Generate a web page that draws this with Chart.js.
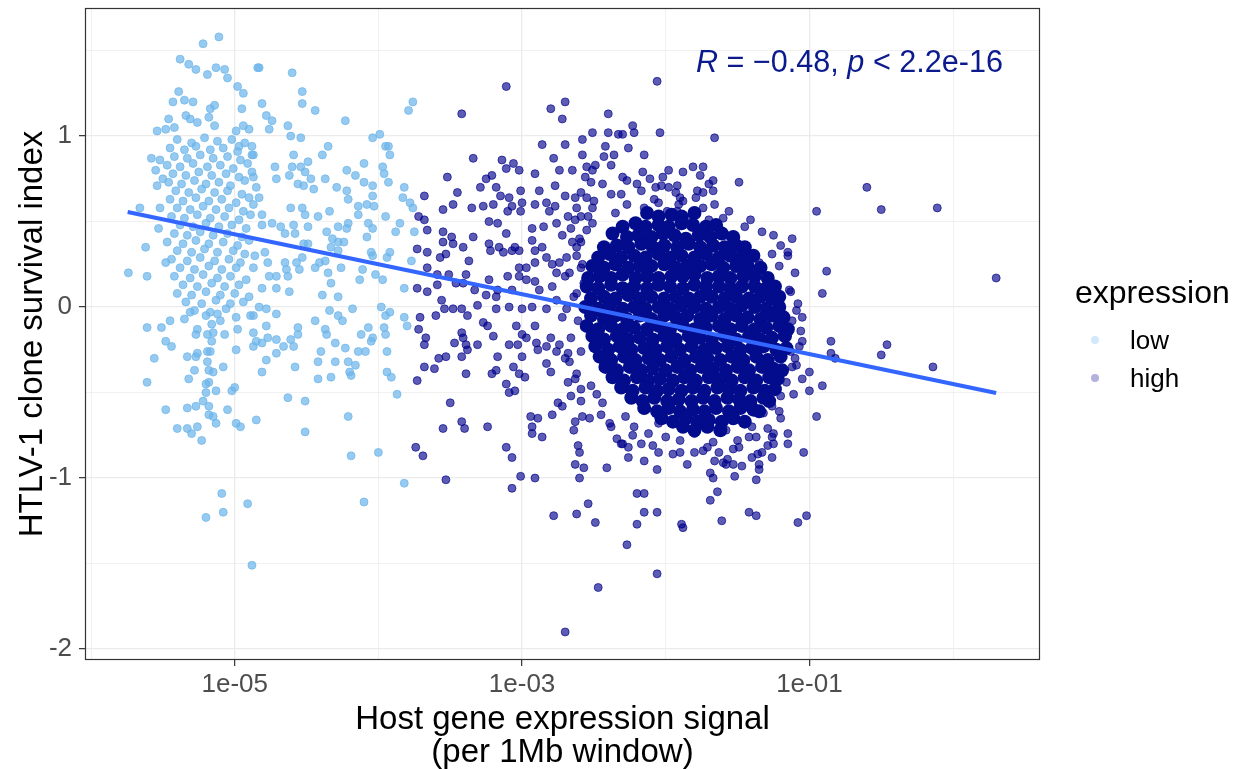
<!DOCTYPE html>
<html>
<head>
<meta charset="utf-8">
<script src="https://cdn.jsdelivr.net/npm/chart.js@4/dist/chart.umd.min.js"></script>
<style>
  html, body { margin: 0; padding: 0; background: #fff; }
  #wrap { width: 1240px; height: 769px; }
</style>
</head>
<body>
<div id="wrap"><canvas id="chart" width="1240" height="769"></canvas></div>
<script>
// each point: [log10(host gene expression signal), clone survival index]
const lowPoints = [
  [-5.11,1.58],[-5.22,1.54],[-5.38,1.45],[-5.32,1.42],[-5.27,1.39],[-5.19,1.36],[-5.13,1.40],[-5.07,1.39],[-5.05,1.34],[-4.98,1.29],
  [-4.94,1.25],[-4.95,1.16],[-5.39,1.26],[-5.43,1.20],[-5.35,1.21],[-5.29,1.20],[-5.17,1.16],[-5.14,1.18],[-5.18,1.11],[-5.34,1.12],
  [-5.31,1.10],[-5.46,1.10],[-5.26,1.08],[-5.14,1.06],[-5.54,1.03],[-5.48,1.04],[-5.42,1.05],[-4.99,1.03],[-4.90,1.04],[-4.94,1.06],
  [-4.84,1.40],[-5.58,0.87],[-5.55,0.80],[-5.52,0.86],[-5.50,0.75],[-5.54,0.71],[-5.52,0.58],[-5.66,0.58],[-5.62,0.35],[-5.74,0.20],
  [-5.61,0.18],[-5.48,0.26],[-5.53,0.46],[-4.97,0.94],[-4.88,0.89],
  [-5.61,-0.12],[-5.51,-0.12],[-5.45,-0.08],[-5.48,-0.20],[-5.44,-0.23],[-5.56,-0.30],[-5.61,-0.44],[-5.48,-0.60],[-5.40,-0.71],[-5.33,-0.71],
  [-5.30,-0.74],[-5.26,-0.70],[-5.23,-0.78],[-5.33,-0.59],[-5.27,-0.58],[-5.18,-0.58],[-5.18,-0.63],[-5.15,-0.64],[-5.13,-0.68],[-5.05,-0.60],
  [-4.99,-0.68],[-4.96,-0.70],[-4.85,-0.66],[-5.22,-0.55],[-5.20,-0.50],[-5.13,-0.49],[-5.20,-0.45],[-5.18,-0.44],[-5.02,-0.49],[-5.00,-0.47],
  [-5.32,-0.42],[-5.28,-0.37],[-5.18,-0.37],[-5.15,-0.38],[-5.08,-0.35],[-5.19,-0.32],[-5.33,-0.29],[-5.27,-0.29],[-5.26,-0.27],[-5.19,-0.26],
  [-5.17,-0.26],[-4.99,-0.25],[-5.16,-0.20],[-5.19,-0.16],[-5.15,-0.15],[-5.27,-0.16],[-5.26,-0.13],[-5.07,-0.16],[-4.98,-0.13],[-4.87,-0.15],
  [-4.87,-0.23],[-4.85,-0.20],[-5.16,-0.10],[-5.10,-0.08],[-5.12,-0.04],[-5.20,-0.05],[-5.35,-0.07],[-5.31,-0.03],[-4.99,-0.06],[-4.89,-0.05],
  [-5.09,-1.09],[-4.91,-1.15],[-5.08,-1.20],[-5.20,-1.23],[-4.88,-1.51],
  [-4.83,1.40],[-4.60,1.37],[-4.53,1.26],[-4.53,1.19],[-4.44,1.15],[-4.81,1.19],[-4.78,1.12],[-4.74,1.09],[-4.76,1.04],[-4.63,1.06],
  [-4.61,1.00],[-4.54,0.99],[-4.23,1.09],[-4.04,0.99],[-3.99,1.01],[-3.95,0.94],[-3.93,0.94],[-3.92,0.89],[-3.76,1.20],[-3.79,1.15],
  [-4.35,0.94],[-4.39,0.89],[-4.59,0.89],[-4.49,0.85],[-4.60,0.82],[-4.54,0.82],[-4.51,0.79],[-4.47,0.75],[-4.72,0.82],[-4.71,0.75],
  [-4.62,0.77],[-4.56,0.72],[-4.52,0.71],[-4.45,0.69],[-4.37,0.75],[-4.22,0.80],[-4.16,0.77],[-4.10,0.84],[-3.97,0.82],[-3.96,0.78],
  [-3.93,0.73],[-4.10,0.73],[-4.04,0.71],[-4.04,0.65],[-4.03,0.59],[-4.08,0.60],[-4.14,0.59],[-4.14,0.54],[-4.22,0.68],[-4.21,0.63],
  [-4.29,0.70],[-3.82,0.70],[-3.83,0.64],[-3.78,0.61],[-3.76,0.58],[-3.85,0.49],[-3.88,0.44],[-3.75,0.44],[-3.77,0.27],[-3.94,0.29],
  [-3.92,0.32],[-4.05,0.32],[-4.04,0.30],[-4.07,0.49],[-4.04,0.46],[-4.08,0.41],[-4.21,0.49],[-4.22,0.46],[-4.28,0.47],[-4.34,0.56],
  [-4.42,0.53],[-4.49,0.47],[-4.53,0.58],[-4.51,0.54],[-4.61,0.58],[-4.59,0.48],[-4.58,0.43],[-4.65,0.43],[-4.68,0.47],[-4.74,0.49],
  [-4.81,0.48],[-4.36,0.44],[-4.32,0.40],[-4.33,0.35],[-4.28,0.38],[-4.24,0.38],[-4.28,0.33],[-4.37,0.27],[-4.41,0.26],[-4.44,0.23],
  [-4.26,0.23],[-4.11,0.22],[-4.13,0.16],[-4.02,0.19],[-3.97,0.16],[-4.35,0.20],[-4.33,0.14],[-4.52,0.37],[-4.49,0.37],[-4.53,0.29],
  [-4.57,0.26],[-4.65,0.26],[-4.64,0.22],[-4.55,0.22],[-4.63,0.18],[-4.71,0.18],[-4.76,0.18],[-4.79,0.32],[-4.77,0.26],[-4.86,0.30],
  [-4.87,0.23],[-4.81,0.11],[-4.71,0.11],[-4.62,0.09],[-4.39,0.07],[-4.28,0.06],[-3.82,0.11],[-3.95,0.53],[-4.87,0.89],[-4.87,0.76],
  [-4.85,0.70],[-4.83,0.64],[-4.81,0.54],[-4.87,0.60],
  [-4.87,-0.05],[-4.83,0.00],[-4.78,-0.01],[-4.71,-0.04],[-4.78,-0.11],[-4.81,-0.21],[-4.77,-0.18],[-4.71,-0.19],[-4.71,-0.27],[-4.78,-0.31],
  [-4.81,-0.38],[-4.66,-0.23],[-4.61,-0.19],[-4.59,-0.23],[-4.56,-0.16],[-4.56,-0.12],[-4.58,-0.35],[-4.44,-0.08],[-4.37,-0.13],[-4.36,-0.16],
  [-4.40,-0.26],[-4.42,-0.32],[-4.42,-0.42],[-4.33,-0.41],[-4.30,-0.32],[-4.30,-0.21],[-4.23,-0.24],[-4.21,-0.32],[-4.16,-0.34],[-4.20,-0.38],
  [-4.19,-0.40],[-4.34,-0.02],[-4.28,-0.05],[-4.25,-0.08],[-4.18,-0.01],[-4.12,-0.16],[-4.07,-0.12],[-4.04,-0.18],[-4.05,-0.20],[-4.14,-0.26],
  [-4.09,-0.26],[-3.96,-0.12],[-3.95,-0.16],[-3.94,-0.26],[-3.94,-0.38],[-3.91,-0.41],[-3.95,-0.05],[-3.92,-0.03],[-3.98,0.00],[-3.82,-0.06],
  [-3.80,-0.11],[-3.87,-0.51],[-4.63,-0.53],[-4.51,-0.55],[-4.51,-0.73],[-4.21,-0.64],[-4.19,-0.87],[-4.00,-0.85],[-3.82,-1.03],[-4.10,-1.14],
  // dense part of the low cluster
  [-5.40,0.98],[-5.30,0.96],[-5.21,0.99],[-5.12,0.97],[-5.02,0.98],[-4.93,0.96],
  [-5.45,0.93],[-5.35,0.92],[-5.27,0.94],[-5.17,0.92],[-5.08,0.93],[-4.98,0.91],[-4.88,0.94],
  [-5.42,0.88],[-5.33,0.87],[-5.24,0.89],[-5.15,0.87],[-5.05,0.88],[-4.96,0.86],
  [-5.47,0.83],[-5.38,0.82],[-5.29,0.84],[-5.19,0.82],[-5.10,0.83],[-5.01,0.81],[-4.91,0.84],
  [-5.43,0.78],[-5.34,0.77],[-5.25,0.79],[-5.16,0.77],[-5.06,0.78],[-4.97,0.76],[-4.88,0.79],
  [-5.46,0.73],[-5.37,0.72],[-5.28,0.74],[-5.20,0.72],[-5.11,0.73],[-5.03,0.71],[-4.93,0.74],
  [-5.41,0.68],[-5.32,0.67],[-5.23,0.69],[-5.14,0.67],[-5.05,0.68],[-4.95,0.66],
  [-5.45,0.63],[-5.36,0.62],[-5.27,0.64],[-5.18,0.62],[-5.09,0.63],[-4.99,0.61],[-4.90,0.64],
  [-5.40,0.58],[-5.31,0.57],[-5.22,0.59],[-5.13,0.57],[-5.04,0.58],[-4.94,0.56],
  [-5.44,0.53],[-5.35,0.52],[-5.26,0.54],[-5.17,0.52],[-5.07,0.53],[-4.97,0.51],[-4.89,0.54],
  [-5.38,0.48],[-5.29,0.47],[-5.20,0.49],[-5.11,0.47],[-5.02,0.48],[-4.92,0.46],
  [-5.42,0.43],[-5.33,0.42],[-5.24,0.44],[-5.15,0.42],[-5.05,0.43],[-4.95,0.41],
  [-5.47,0.38],[-5.36,0.37],[-5.27,0.39],[-5.18,0.37],[-5.08,0.38],[-4.98,0.36],[-4.90,0.39],
  [-5.40,0.33],[-5.30,0.32],[-5.21,0.34],[-5.12,0.32],[-5.01,0.33],[-4.93,0.31],
  [-5.44,0.28],[-5.33,0.27],[-5.24,0.29],[-5.14,0.27],[-5.04,0.28],[-4.96,0.26],
  [-5.38,0.23],[-5.28,0.22],[-5.18,0.24],[-5.09,0.22],[-4.99,0.23],
  [-5.42,0.18],[-5.31,0.17],[-5.22,0.19],[-5.12,0.17],[-5.03,0.18],[-4.92,0.16],
  [-5.36,0.13],[-5.26,0.12],[-5.16,0.14],[-5.07,0.12],[-4.97,0.13],
  [-5.40,0.08],[-5.30,0.07],[-5.20,0.09],[-5.10,0.07],[-5.00,0.08],[-4.90,0.06],
  [-5.34,0.03],[-5.23,0.02],[-5.13,0.04],[-5.03,0.02],[-4.94,0.03],
  [-5.28,-0.02],[-5.17,-0.03],[-5.06,-0.01]
];

const highPoints = [
  [-3.68,0.65],[-3.72,0.53],[-3.68,0.51],[-3.66,0.45],[-3.73,0.34],[-3.66,0.32],[-3.66,0.23],[-3.73,0.11],[-3.66,0.09],[-3.71,-0.06],
  [-3.72,-0.13],[-3.67,-0.18],[-3.68,-0.22],[-3.68,-0.35],[-3.73,-0.43],[-3.74,-0.82],[-3.69,-0.87],
  [-3.11,1.29],[-3.42,1.13],[-2.80,1.16],[-2.70,1.20],[-2.72,1.10],[-2.86,0.95],[-2.70,0.95],[-2.51,1.02],[-2.58,0.98],[-2.58,0.89],
  [-3.34,0.87],[-3.14,0.86],[-3.11,0.81],[-3.06,0.84],[-3.02,0.80],[-2.78,0.87],[-2.74,0.80],[-2.65,0.80],[-2.91,0.78],[-3.52,0.76],
  [-3.25,0.75],[-3.21,0.77],[-3.29,0.70],[-3.18,0.70],[-3.15,0.65],[-3.09,0.64],[-3.01,0.68],[-2.88,0.68],[-2.77,0.71],[-2.70,0.65],
  [-3.45,0.67],[-3.48,0.60],[-3.55,0.57],[-3.35,0.58],[-3.27,0.59],[-3.20,0.60],[-3.10,0.56],[-3.07,0.59],[-3.00,0.61],[-3.01,0.56],
  [-2.91,0.60],[-2.83,0.61],[-2.81,0.56],[-2.77,0.59],[-2.68,0.53],[-3.55,0.44],[-3.49,0.41],[-3.34,0.41],[-3.23,0.50],[-3.17,0.49],
  [-3.11,0.43],[-2.93,0.46],[-2.85,0.47],[-3.55,0.38],[-3.48,0.37],[-3.41,0.35],[-3.57,0.29],[-3.53,0.31],[-3.37,0.27],[-3.23,0.37],
  [-3.22,0.33],[-3.16,0.35],[-3.13,0.32],[-3.07,0.33],[-3.05,0.35],[-3.02,0.33],[-3.59,0.19],[-3.51,0.19],[-3.39,0.19],[-3.41,0.14],
  [-3.33,0.10],[-3.23,0.16],[-3.17,0.10],[-3.10,0.18],[-3.07,0.10],[-3.59,0.13],[-3.56,0.04],[-3.46,0.14],[-3.25,0.07],[-3.18,0.06],
  [-3.31,0.01],[-3.54,-0.01],[-3.48,-0.01],[-3.42,-0.01],[-3.38,-0.05],[-3.60,-0.05],[-2.93,0.39],[-2.91,0.33],[-2.86,0.35],[-2.83,0.29],
  [-2.91,0.26],[-2.97,0.23],[-3.02,0.23],[-3.02,0.18],[-2.97,0.16],[-2.91,0.15],[-2.88,0.10],[-2.79,0.12],[-2.76,0.20],[-2.74,0.26],
  [-2.79,0.25],[-2.69,0.29],[-2.67,0.20],[-2.62,0.35],[-2.59,0.38],[-2.65,0.38],[-2.55,0.45],[-2.51,0.49],[-2.54,0.53],[-2.59,0.53],
  [-2.63,0.51],[-2.51,0.58],[-2.55,0.64],[-2.59,0.67],[-2.52,0.73],[-2.56,0.76],[-2.51,0.80],[-2.55,0.82],[-2.63,0.64],[-2.76,0.49],
  [-2.72,0.42],[-2.59,0.23],[-2.62,0.08],[-2.55,0.12],[-2.51,0.04],[-2.76,0.04],[-2.69,-0.01],[-2.83,-0.01],[-2.93,0.00],[-3.00,-0.01],
  [-3.09,0.00],[-3.18,-0.01],
  [-3.47,-0.21],[-3.42,-0.15],[-3.41,-0.18],[-3.39,-0.22],[-3.38,-0.25],[-3.31,-0.22],[-3.27,-0.09],[-3.24,-0.11],[-3.20,-0.17],[-3.53,-0.29],
  [-3.58,-0.30],[-3.42,-0.29],[-3.61,-0.36],[-3.39,-0.39],[-3.21,-0.39],[-3.18,-0.37],[-3.17,-0.29],[-3.11,-0.45],[-3.09,-0.50],[-3.05,-0.49],
  [-3.06,-0.35],[-3.02,-0.39],[-2.98,-0.41],[-3.00,-0.29],[-3.09,-0.22],[-3.03,-0.22],[-3.00,-0.16],[-3.04,-0.11],[-2.97,-0.18],[-2.91,-0.11],
  [-2.90,-0.21],[-2.89,-0.25],[-2.83,-0.23],[-2.83,-0.33],[-2.80,-0.38],[-2.80,-0.18],[-2.76,-0.26],[-2.74,-0.22],[-2.68,-0.27],[-2.68,-0.44],
  [-2.67,-0.32],[-2.62,-0.39],[-2.59,-0.48],[-2.59,-0.55],[-2.75,-0.56],[-2.72,-0.58],[-2.79,-0.63],[-2.58,-0.64],[-2.53,-0.65],[-2.63,-0.67],
  [-2.64,-0.72],[-2.94,-0.64],[-2.89,-0.65],[-2.93,-0.70],[-2.93,-0.74],[-2.86,-0.76],[-3.50,-0.56],[-3.42,-0.67],[-3.40,-0.71],[-3.55,-0.71],
  [-3.24,-0.70],[-3.11,-0.82],[-3.07,-0.88],[-3.53,-1.01],[-3.07,-1.06],[-3.01,-0.99],[-2.91,-1.00],[-2.61,-0.81],[-2.60,-0.85],[-2.63,-0.92],
  [-2.57,-0.94],[-2.60,-1.00],[-2.54,-1.15],[-2.62,-1.21],[-2.78,-1.22],[-2.49,-1.26],[-2.47,-1.64],[-2.70,-1.90],[-2.48,-0.51],
  [-2.06,1.32],[-2.40,1.13],[-2.04,1.02],[-1.66,0.99],[-2.23,1.06],[-2.22,1.02],[-2.33,1.01],[-2.30,1.01],[-2.40,1.02],[-2.42,0.94],
  [-2.26,0.93],[-2.43,0.88],[-2.36,0.89],[-2.38,0.83],[-2.15,0.89],[-2.49,0.83],[-1.98,0.80],[-1.88,0.79],[-1.81,0.82],[-1.74,0.82],
  [-1.76,0.77],[-1.67,0.74],[-1.49,0.73],[-1.67,0.68],[-1.74,0.67],[-2.16,0.79],[-2.11,0.75],[-2.27,0.74],[-2.03,0.71],[-1.92,0.71],
  [-2.07,0.70],[-1.90,0.64],[-1.79,0.64],[-1.91,0.60],[-1.74,0.58],[-2.31,0.66],[-2.15,0.58],[-2.05,0.61],[-1.99,0.56],[-1.92,0.56],
  [-1.70,0.51],[-1.63,0.47],[-1.45,0.47],[-1.41,0.51],[-1.33,0.44],[-1.58,0.42],[-1.60,0.32],[-1.51,0.32],[-1.46,0.31],[-1.26,0.31],
  [-1.15,0.32],[-1.35,0.26],[-1.21,0.24],[-1.37,0.20],[-1.13,0.09],[-1.26,0.06],[-0.95,0.56],[-1.42,0.13],[-1.85,0.51],[-1.79,0.47],
  [-1.09,-0.02],[-1.05,-0.06],[-1.17,-0.12],[-1.19,-0.15],[-1.05,-0.20],[-1.07,-0.23],[-1.10,-0.30],[-1.12,-0.35],[-1.00,-0.38],[-1.05,-0.42],
  [-1.00,-0.49],[-1.11,-0.51],[-0.95,-0.64],[-1.04,-0.85],[-1.15,-0.74],[-1.15,-0.80],[-1.21,-0.61],[-1.20,-0.65],[-1.25,-0.74],[-1.25,-0.80],
  [-1.29,-0.71],[-1.26,-0.88],[-1.33,-0.85],[-1.36,-0.86],[-1.35,-0.92],[-1.35,-0.95],[-1.40,-0.88],[-1.37,-1.01],[-1.47,-0.93],[-1.53,-0.92],
  [-1.52,-0.99],[-1.58,-0.92],[-1.60,-0.91],[-1.66,-0.90],[-1.69,-0.97],[-1.67,-1.00],[-1.64,-1.08],[-1.69,-1.13],[-1.61,-1.25],[-1.42,-1.20],
  [-1.37,-1.22],[-1.08,-1.26],[-1.02,-1.22],[-1.90,-0.85],[-1.80,-0.85],[-2.06,-0.95],[-2.06,-1.20],[-2.15,-1.20],[-2.20,-1.09],[-2.15,-1.09],
  [-2.20,-1.27],[-1.88,-1.29],[-1.89,-1.27],[-2.27,-1.39],[-2.06,-1.56],[-2.41,-0.94],[-2.26,-0.88],[-2.26,-0.82],[-2.34,-0.77],[-2.31,-0.80],
  [-2.23,-0.75],[-2.17,-0.80],[-2.09,-0.81],[-2.05,-0.85],[-2.39,-0.68],[-2.45,-0.63],[-1.71,-0.82],[-1.67,-0.79],[-1.63,-0.85],[-1.57,-0.89],
  [-1.53,-0.83],[-1.49,-0.82],[-1.29,-0.81],[-1.26,-0.76],[-1.37,-0.76],[-1.42,-0.76],
  [-0.60,0.70],[-0.50,0.57],[-0.11,0.58],[-0.88,0.21],[-0.91,0.08],[0.30,0.17],[-0.85,-0.20],[-0.85,-0.27],[-0.82,-0.30],[-0.46,-0.22],
  [-0.50,-0.28],[-0.14,-0.35],[-0.91,-0.46],
  // edge of the dense cloud
  [-2.50,0.62],[-2.38,0.66],[-2.27,0.60],[-2.17,0.68],[-2.08,0.63],[-1.98,0.70],[-1.88,0.62],[-1.78,0.68],[-1.66,0.60],[-1.56,0.56],
  [-2.44,0.72],[-2.30,0.76],[-2.20,0.72],[-2.02,0.76],[-1.93,0.67],[-1.70,0.72],[-2.62,0.58],[-2.12,0.54],[-1.60,0.52],[-2.35,0.55],
  [-2.66,0.46],[-2.62,0.30],[-2.70,0.18],[-2.64,0.06],[-2.72,-0.06],[-2.66,-0.18],[-2.70,-0.30],[-2.63,-0.42],[-2.60,0.40],[-2.58,0.25],
  [-2.61,-0.08],[-2.59,-0.26],[-2.57,0.14],[-2.66,-0.52],
  [-1.15,0.30],[-1.10,0.20],[-1.14,0.10],[-1.08,0.02],[-1.12,-0.08],[-1.06,-0.14],[-1.13,-0.26],[-1.09,-0.34],[-1.16,-0.44],[-1.20,-0.52],
  [-1.26,-0.58],[-1.32,-0.62],[-1.12,0.40],[-1.20,0.36],[-1.25,0.42],
  [-2.38,-0.70],[-2.22,-0.70],[-2.12,-0.74],[-2.00,-0.76],[-1.90,-0.78],[-1.80,-0.74],[-1.70,-0.70],[-1.58,-0.72],[-1.45,-0.66],[-1.50,-0.78],
  [-2.05,-0.68],[-1.95,-0.86],[-1.74,-0.84],[-2.30,-0.80],[-1.40,-0.70],[-2.28,-0.64],[-2.44,-0.56],[-2.52,-0.46],[-1.85,-0.92],[-2.15,-0.90]
];

// solid centre of the high-expression cloud, where points overlap heavily
const highCorePoints = [
  [-2.13,0.55],[-2.05,0.53],[-1.96,0.54],[-1.89,0.53],[-1.80,0.55],
  [-2.30,0.47],[-2.21,0.49],[-2.14,0.47],[-2.05,0.48],[-1.98,0.47],[-1.89,0.49],[-1.81,0.48],[-1.72,0.47],[-1.65,0.48],
  [-2.37,0.43],[-2.27,0.41],[-2.19,0.42],[-2.10,0.41],[-2.02,0.43],[-1.94,0.42],[-1.86,0.40],[-1.77,0.42],[-1.69,0.41],[-1.61,0.43],[-1.53,0.41],
  [-2.43,0.35],[-2.34,0.36],[-2.26,0.35],[-2.17,0.37],[-2.09,0.35],[-2.01,0.36],[-1.92,0.35],[-1.84,0.37],[-1.76,0.35],[-1.67,0.36],[-1.59,0.35],[-1.51,0.36],[-1.45,0.35],
  [-2.47,0.29],[-2.39,0.31],[-2.31,0.29],[-2.22,0.30],[-2.14,0.29],[-2.05,0.31],[-1.97,0.29],[-1.89,0.30],[-1.80,0.29],[-1.72,0.31],[-1.63,0.29],[-1.55,0.30],[-1.47,0.29],[-1.39,0.30],
  [-2.51,0.24],[-2.43,0.23],[-2.35,0.25],[-2.26,0.23],[-2.18,0.24],[-2.10,0.24],[-2.01,0.25],[-1.93,0.23],[-1.85,0.24],[-1.76,0.24],[-1.68,0.25],[-1.60,0.23],[-1.51,0.24],[-1.43,0.24],[-1.34,0.23],
  [-2.54,0.17],[-2.46,0.18],[-2.38,0.17],[-2.30,0.19],[-2.21,0.17],[-2.13,0.18],[-2.05,0.17],[-1.96,0.18],[-1.88,0.18],[-1.80,0.19],[-1.71,0.17],[-1.63,0.18],[-1.55,0.17],[-1.46,0.18],[-1.38,0.18],[-1.29,0.17],
  [-2.55,0.12],[-2.47,0.11],[-2.38,0.13],[-2.30,0.11],[-2.22,0.12],[-2.13,0.11],[-2.05,0.13],[-1.97,0.12],[-1.88,0.11],[-1.80,0.13],[-1.72,0.12],[-1.63,0.12],[-1.55,0.11],[-1.47,0.12],[-1.38,0.12],[-1.30,0.11],[-1.24,0.12],
  [-2.52,0.05],[-2.43,0.06],[-2.35,0.05],[-2.26,0.07],[-2.18,0.05],[-2.10,0.06],[-2.01,0.05],[-1.93,0.06],[-1.84,0.05],[-1.76,0.06],[-1.68,0.06],[-1.59,0.05],[-1.51,0.06],[-1.42,0.05],[-1.34,0.06],[-1.26,0.05],[-1.21,0.06],
  [-2.56,0.00],[-2.47,-0.01],[-2.39,0.01],[-2.30,-0.01],[-2.22,0.00],[-2.14,-0.01],[-2.05,0.00],[-1.97,-0.01],[-1.89,0.01],[-1.80,0.00],[-1.72,-0.01],[-1.63,0.00],[-1.55,-0.01],[-1.47,0.01],[-1.38,0.00],[-1.30,-0.01],[-1.21,0.00],
  [-2.52,-0.05],[-2.43,-0.07],[-2.35,-0.05],[-2.27,-0.07],[-2.18,-0.05],[-2.10,-0.07],[-2.01,-0.05],[-1.93,-0.06],[-1.85,-0.05],[-1.76,-0.07],[-1.68,-0.05],[-1.59,-0.07],[-1.51,-0.05],[-1.43,-0.06],[-1.34,-0.07],[-1.26,-0.05],[-1.18,-0.06],
  [-2.55,-0.11],[-2.47,-0.13],[-2.38,-0.11],[-2.30,-0.13],[-2.22,-0.12],[-2.13,-0.13],[-2.05,-0.11],[-1.97,-0.13],[-1.88,-0.11],[-1.80,-0.13],[-1.72,-0.12],[-1.63,-0.11],[-1.55,-0.13],[-1.47,-0.11],[-1.38,-0.13],[-1.30,-0.12],[-1.21,-0.11],[-1.15,-0.13],
  [-2.51,-0.17],[-2.43,-0.19],[-2.34,-0.17],[-2.26,-0.19],[-2.18,-0.18],[-2.09,-0.19],[-2.01,-0.17],[-1.93,-0.19],[-1.84,-0.17],[-1.76,-0.18],[-1.68,-0.19],[-1.59,-0.17],[-1.51,-0.19],[-1.42,-0.17],[-1.34,-0.19],[-1.26,-0.18],[-1.17,-0.17],
  [-2.49,-0.23],[-2.40,-0.25],[-2.32,-0.23],[-2.24,-0.25],[-2.15,-0.24],[-2.07,-0.25],[-1.99,-0.23],[-1.90,-0.25],[-1.82,-0.23],[-1.73,-0.25],[-1.65,-0.24],[-1.57,-0.23],[-1.48,-0.25],[-1.40,-0.24],[-1.32,-0.23],[-1.23,-0.25],[-1.16,-0.24],
  [-2.46,-0.29],[-2.38,-0.31],[-2.29,-0.29],[-2.21,-0.31],[-2.12,-0.30],[-2.04,-0.31],[-1.96,-0.29],[-1.87,-0.31],[-1.79,-0.29],[-1.71,-0.30],[-1.62,-0.31],[-1.54,-0.29],[-1.46,-0.31],[-1.37,-0.29],[-1.29,-0.31],[-1.20,-0.29],
  [-2.42,-0.35],[-2.34,-0.37],[-2.25,-0.35],[-2.17,-0.37],[-2.09,-0.36],[-2.00,-0.37],[-1.92,-0.35],[-1.83,-0.37],[-1.75,-0.35],[-1.67,-0.36],[-1.58,-0.37],[-1.50,-0.35],[-1.42,-0.37],[-1.33,-0.35],[-1.25,-0.36],[-1.19,-0.37],
  [-2.37,-0.41],[-2.29,-0.43],[-2.20,-0.41],[-2.12,-0.43],[-2.04,-0.42],[-1.95,-0.43],[-1.87,-0.41],[-1.79,-0.43],[-1.70,-0.41],[-1.62,-0.42],[-1.54,-0.43],[-1.45,-0.41],[-1.37,-0.43],[-1.28,-0.41],[-1.22,-0.42],
  [-2.31,-0.47],[-2.23,-0.49],[-2.14,-0.47],[-2.06,-0.49],[-1.98,-0.48],[-1.89,-0.49],[-1.81,-0.47],[-1.73,-0.49],[-1.64,-0.47],[-1.56,-0.48],[-1.48,-0.49],[-1.39,-0.47],[-1.31,-0.49],[-1.24,-0.48],
  [-2.24,-0.53],[-2.16,-0.55],[-2.08,-0.53],[-1.99,-0.55],[-1.91,-0.54],[-1.82,-0.55],[-1.74,-0.53],[-1.66,-0.55],[-1.57,-0.53],[-1.49,-0.54],[-1.41,-0.55],[-1.32,-0.53],[-1.28,-0.55],
  [-2.15,-0.59],[-2.06,-0.61],[-1.98,-0.59],[-1.90,-0.61],[-1.81,-0.60],[-1.73,-0.61],[-1.65,-0.59],[-1.56,-0.61],[-1.48,-0.59],[-1.39,-0.60],[-1.35,-0.61],
  [-2.03,-0.65],[-1.95,-0.67],[-1.86,-0.65],[-1.78,-0.67],[-1.70,-0.66],[-1.61,-0.67],[-1.53,-0.65],[-1.45,-0.67],
  [-1.88,-0.70],[-1.80,-0.72],[-1.71,-0.70],[-1.62,-0.72]
];

// linear fit: [log10(signal), survival index] at both ends
const fitLine = [[-5.745, 0.556], [0.30, -0.503]];

const xMajorTicks = [1e-5, 1e-3, 1e-1];
const xTickLabels = ['1e-05', '1e-03', '1e-01'];
const xMinorTicks = [1e-6, 1e-4, 1e-2, 1];
const yMajorTicks = [-2, -1, 0, 1];
const yTickLabels = ['-2', '-1', '0', '1'];
const yMinorTicks = [-1.5, -0.5, 0.5, 1.5];

const corText = [['R', true], [' = \u22120.48, ', false], ['p', true], [' < 2.2e-16', false]];
const legendTitle = 'expression';
const legendLabels = ['low', 'high'];

const FONT = '"Liberation Sans", Arial, Helvetica, sans-serif';
const LOW_COLOR = 'rgba(110, 182, 234, 0.72)';
const HIGH_COLOR = 'rgba(0, 0, 139, 0.64)';
const CORE_COLOR = 'rgb(2, 12, 140)';

const toXY = p => ({ x: Math.pow(10, p[0]), y: p[1] });
const sameLog = (a, b) => Math.abs(Math.log10(a) - Math.log10(b)) < 1e-6;
const isXMajor = v => xMajorTicks.some(m => sameLog(m, v));

Chart.defaults.font.family = FONT;

// frame, correlation label and legend drawn on the canvas
const extrasPlugin = {
  id: 'extras',
  afterDraw(chart) {
    const { ctx, chartArea: a } = chart;
    ctx.save();
    ctx.strokeStyle = '#333333';
    ctx.lineWidth = 1.2;
    ctx.strokeRect(a.left + 0.5, a.top + 0.5, a.right - a.left - 1, a.bottom - a.top - 1);

    // correlation text
    let x = 696;
    ctx.fillStyle = '#0b1a8c';
    ctx.textBaseline = 'alphabetic';
    corText.forEach(([t, italic]) => {
      ctx.font = (italic ? 'italic ' : '') + '30.6px ' + FONT;
      ctx.fillText(t, x, 72);
      x += ctx.measureText(t).width;
    });

    // legend
    ctx.fillStyle = '#000000';
    ctx.font = '32px ' + FONT;
    ctx.fillText(legendTitle, 1075, 303);
    const keyColors = ['rgba(110, 182, 234, 0.3)', 'rgba(0, 0, 139, 0.3)'];
    const keyY = [340, 378];
    legendLabels.forEach((lab, i) => {
      ctx.beginPath();
      ctx.arc(1095, keyY[i], 4, 0, Math.PI * 2);
      ctx.fillStyle = keyColors[i];
      ctx.fill();
      ctx.fillStyle = '#000000';
      ctx.font = '26px ' + FONT;
      ctx.fillText(lab, 1130, keyY[i] + 9);
    });
    ctx.restore();
  }
};

new Chart(document.getElementById('chart'), {
  type: 'scatter',
  data: {
    datasets: [
      {
        label: 'fit',
        data: fitLine.map(toXY),
        showLine: true,
        borderColor: '#3366FF',
        borderWidth: 4,
        pointRadius: 0
      },
      {
        label: 'high',
        data: highCorePoints.map(toXY),
        backgroundColor: CORE_COLOR,
        borderWidth: 0,
        pointRadius: 7
      },
      {
        label: 'high',
        data: highPoints.map(toXY),
        backgroundColor: HIGH_COLOR,
        borderColor: HIGH_COLOR,
        borderWidth: 1,
        pointRadius: 4
      },
      {
        label: 'low',
        data: lowPoints.map(toXY),
        backgroundColor: LOW_COLOR,
        borderColor: LOW_COLOR,
        borderWidth: 1,
        pointRadius: 4
      }
    ]
  },
  options: {
    responsive: false,
    animation: false,
    devicePixelRatio: 1,
    layout: { padding: { left: 0, right: 200, top: 8, bottom: 0 } },
    plugins: { legend: { display: false }, tooltip: { enabled: false } },
    scales: {
      x: {
        type: 'logarithmic',
        min: Math.pow(10, -6.042),
        max: Math.pow(10, 0.605),
        afterBuildTicks: s => { s.ticks = xMinorTicks.concat(xMajorTicks).sort((a, b) => a - b).map(v => ({ value: v })); },
        afterFit: s => { s.height = 109; s.paddingLeft = 0; s.paddingRight = 0; },
        ticks: {
          autoSkip: false,
          maxRotation: 0,
          padding: 3,
          color: '#4d4d4d',
          font: { size: 26 },
          callback: v => {
            const i = xMajorTicks.findIndex(m => sameLog(m, v));
            return i >= 0 ? xTickLabels[i] : '';
          }
        },
        grid: {
          color: '#ebebeb',
          lineWidth: c => (c.tick && isXMajor(c.tick.value)) ? 1.3 : 0.7,
          tickColor: c => (c.tick && isXMajor(c.tick.value)) ? '#333333' : 'rgba(0,0,0,0)',
          tickLength: 6,
          tickWidth: 1.2
        },
        border: { display: false },
        title: {
          display: true,
          text: ['Host gene expression signal', '(per 1Mb window)'],
          color: '#000000',
          font: { size: 33, lineHeight: 1.0 },
          padding: { top: 0, bottom: 0 }
        }
      },
      y: {
        type: 'linear',
        min: -2.064,
        max: 1.749,
        afterBuildTicks: s => { s.ticks = yMinorTicks.concat(yMajorTicks).sort((a, b) => a - b).map(v => ({ value: v })); },
        afterFit: s => { s.width = 85; s.paddingTop = 0; s.paddingBottom = 0; },
        ticks: {
          autoSkip: false,
          padding: 7,
          color: '#4d4d4d',
          font: { size: 26 },
          callback: v => {
            const i = yMajorTicks.indexOf(v);
            return i >= 0 ? yTickLabels[i] : '';
          }
        },
        grid: {
          color: '#ebebeb',
          lineWidth: c => (c.tick && yMajorTicks.includes(c.tick.value)) ? 1.3 : 0.7,
          tickColor: c => (c.tick && yMajorTicks.includes(c.tick.value)) ? '#333333' : 'rgba(0,0,0,0)',
          tickLength: 6,
          tickWidth: 1.2
        },
        border: { display: false },
        title: {
          display: true,
          text: 'HTLV-1 clone survival index',
          color: '#000000',
          font: { size: 33, lineHeight: 1.0 },
          padding: { top: 16, bottom: 0 }
        }
      }
    }
  },
  plugins: [extrasPlugin]
});
</script>
</body>
</html>
